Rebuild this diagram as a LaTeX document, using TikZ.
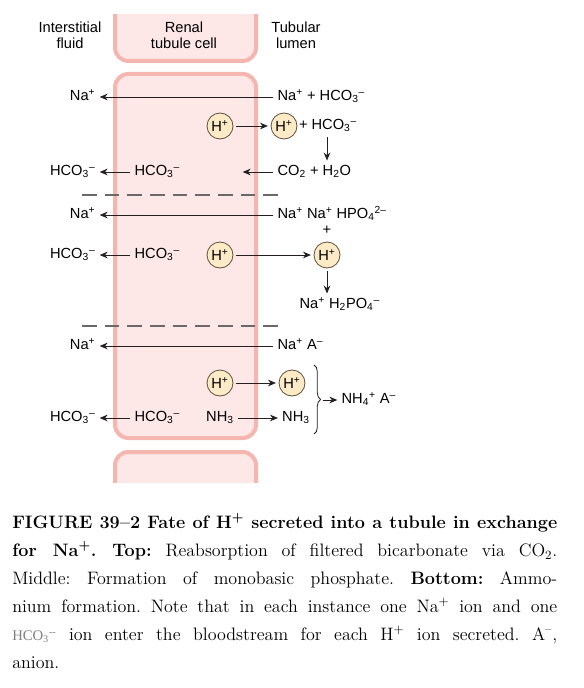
\documentclass[tikz,border=0pt]{standalone}
\usepackage{fontspec}
\setsansfont{Liberation Sans}
\newfontfamily\grayserif{Liberation Serif}
\usepackage{xcolor}
\usepackage{tikz}
\usetikzlibrary{arrows.meta, positioning, calc, decorations.pathreplacing}
\definecolor{cellwall}{RGB}{245,182,176}
\definecolor{cellfill}{RGB}{253,231,231}
\definecolor{ionfill}{RGB}{253,234,198}
\definecolor{iondraw}{RGB}{95,78,60}
\definecolor{mydark}{RGB}{35,31,32}
\definecolor{dashgray}{RGB}{105,105,105}
\newcommand{\ionp}{\textsuperscript{+}}
\newcommand{\ionm}{\textsuperscript{--}}
\newcommand{\lo}[1]{\textsubscript{#1}}
\tikzset{
  cell/.style={draw=cellwall, fill=cellfill, line width=3pt, rounded corners=10pt},
  head/.style={align=center, font=\sffamily\fontsize{11}{12}\selectfont, inner sep=1pt},
  lbl/.style={font=\sffamily\fontsize{11}{13}\selectfont, inner sep=1pt,
    text height=8pt, text depth=2.8pt},
  hion/.style={circle, draw=iondraw, fill=ionfill, minimum size=19.5pt, inner sep=0pt,
    line width=0.6pt, font=\sffamily\fontsize{11}{13}\selectfont},
  arrow/.style={-{Stealth[length=6pt, width=5pt]}, color=mydark, line width=0.6pt,
    shorten <=2pt, shorten >=2pt},
  divider/.style={color=dashgray, line width=1pt, dash pattern=on 11pt off 6pt},
  brace/.style={decorate, decoration={brace, amplitude=5pt}, color=mydark, line width=0.6pt}
}

\begin{document}
\begin{tikzpicture}[x=0.75pt, y=-0.75pt]
  \useasboundingbox (0,0) rectangle (584,688);

  % Cells
  \begin{scope}
    \clip (100,15) rectangle (270,482);
    \draw[cell] (115,-30) rectangle (256,61);
    \draw[cell] (115,74) rectangle (256,438);
    \draw[cell] (115,452) rectangle (256,530);
  \end{scope}

  % Headings
  \node[head] (fluid) at (70,35) {Interstitial\\fluid};
  \node[head] (renal) at (184,35) {Renal\\tubule cell};
  \node[head] (lumen) at (296,35) {Tubular\\lumen};

  % Top: bicarbonate
  \node[lbl, anchor=west] (naTopR) at (276,97) {Na\ionp{} + HCO\lo{3}\ionm};
  \node[lbl, anchor=east] (naTopL) at (97,97) {Na\ionp};
  \draw[arrow] (naTopR.west) -- (naTopL.east);

  \node[hion] (hCellT) at (220,126) {H\ionp};
  \node[hion] (hLumT) at (284,126) {H\ionp};
  \node[lbl, anchor=west] (hcoT) at (hLumT.east) {+ HCO\lo{3}\ionm};
  \draw[arrow] (hCellT) -- (hLumT);

  \node[lbl, anchor=west] (co2) at (276,172) {CO\lo{2} + H\lo{2}O};
  \draw[arrow] ($(hcoT.south)+(-1,0)$) -- ($(hcoT.south |- co2.north)+(-1,0)$);

  \node[lbl, anchor=east] (hcoTL) at (97,172) {HCO\lo{3}\ionm};
  \node[lbl, anchor=west] (hcoTC) at (133,172) {HCO\lo{3}\ionm};
  \draw[arrow] (hcoTC.west) -- (hcoTL.east);
  \coordinate (co2tip) at (240,172);
  \draw[arrow] (co2.west) -- (co2tip);

  \draw[divider] (82,195) -- (285,195);

  % Middle: phosphate
  \node[lbl, anchor=west] (naMidR) at (276,215) {Na\ionp{} Na\ionp{} HPO\lo{4}\textsuperscript{2--}};
  \node[lbl, anchor=east] (naMidL) at (97,215) {Na\ionp};
  \draw[arrow] (naMidR.west) -- (naMidL.east);
  \node[lbl] (plusMid) at (327,231) {+};

  \node[lbl, anchor=east] (hcoML) at (97,255) {HCO\lo{3}\ionm};
  \node[lbl, anchor=west] (hcoMC) at (133,255) {HCO\lo{3}\ionm};
  \draw[arrow] (hcoMC.west) -- (hcoML.east);
  \node[hion] (hCellM) at (220,255) {H\ionp};
  \node[hion] (hLumM) at (327,255) {H\ionp};
  \draw[arrow] (hCellM) -- (hLumM);

  \node[lbl, anchor=west] (h2po4) at (298,305) {Na\ionp{} H\lo{2}PO\lo{4}\ionm};
  \draw[arrow] (hLumM.south) -- (hLumM.south |- h2po4.north);

  \draw[divider] (82,326) -- (285,326);

  % Bottom: ammonium
  \node[lbl, anchor=west] (naBotR) at (276,346) {Na\ionp{} A\ionm};
  \node[lbl, anchor=east] (naBotL) at (97,346) {Na\ionp};
  \draw[arrow] (naBotR.west) -- (naBotL.east);

  \node[hion] (hCellB) at (220,383) {H\ionp};
  \node[hion] (hLumB) at (292,383) {H\ionp};
  \draw[arrow] (hCellB) -- (hLumB);

  \node[lbl, anchor=east] (hcoBL) at (97,418) {HCO\lo{3}\ionm};
  \node[lbl, anchor=west] (hcoBC) at (133,418) {HCO\lo{3}\ionm};
  \draw[arrow] (hcoBC.west) -- (hcoBL.east);
  \node[lbl] (nh3C) at (220,418) {NH\lo{3}};
  \node[lbl] (nh3L) at (296,418) {NH\lo{3}};
  \draw[arrow] (nh3C) -- (nh3L);

  \draw[brace] (314,365) -- (314,434);
  \coordinate (braceTip) at (320,400);
  \node[lbl, anchor=west] (nh4) at (340,400) {NH\lo{4}\ionp{} A\ionm};
  \draw[arrow] (braceTip) -- (nh4.west);

  % Caption
  \node[anchor=north west, inner sep=0pt, text width=408.75pt, align=justify,
    font=\fontsize{13.5}{21}\selectfont\frenchspacing] (caption) at (12,513)
    {\textbf{FIGURE 39--2 Fate of H\textsuperscript{+} secreted into a tubule in exchange\linebreak
     for Na\textsuperscript{+}. Top:} Reabsorption of filtered bicarbonate via CO\textsubscript{2}.\linebreak
     Middle: Formation of monobasic phosphate. \textbf{Bottom:} Ammo-\linebreak
     nium formation. Note that in each instance one Na\textsuperscript{+} ion and one\linebreak
     {\color{gray}\grayserif\fontsize{11}{11}\selectfont HCO\textsubscript{3}\textsuperscript{--}} ion enter the bloodstream for each H\textsuperscript{+} ion secreted. A\textsuperscript{--},\linebreak
     anion.};
\end{tikzpicture}
\end{document}
